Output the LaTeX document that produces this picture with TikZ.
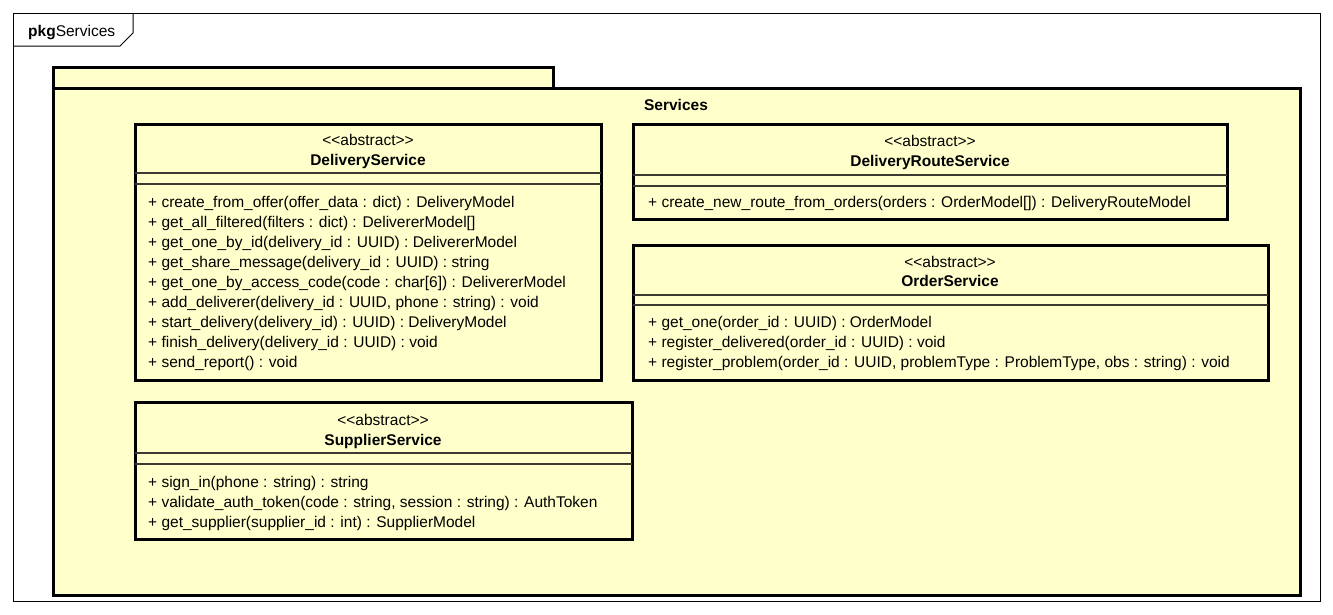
\documentclass[tikz,border=0pt]{standalone}
\usepackage{fontspec}
\newfontfamily\umlfont{Liberation Sans}
\definecolor{umlfill}{HTML}{FFFFCC}
\definecolor{sepcol}{HTML}{3A3A30}

\begin{document}
\begin{tikzpicture}[x=1pt,y=-1pt,
  frame/.style={draw=black, line width=1pt},
  pkgbox/.style={draw=black, line width=3pt, fill=umlfill},
  classbox/.style={draw=black, line width=3pt, fill=umlfill},
  sepline/.style={draw=sepcol, line width=1.2pt},
  txt/.style={inner sep=0pt, text height=11pt, text depth=0pt,
              font=\umlfont\fontsize{15.5}{20}\selectfont},
  member/.style={txt, anchor=west},
  clsname/.style={txt, font=\umlfont\bfseries\fontsize{15.5}{20}\selectfont}
]
\useasboundingbox (0,0) rectangle (1333,614);
\fill[white] (0,0) rectangle (1333,614);

% diagram frame with its name tab
\draw[frame] (13,13) rectangle (1320,601);
\draw[frame] (13,46) -- (120,46) -- (133,33) -- (133,13);
\node[member] (frametitle) at (28,31) {\textbf{pkg}Services};

% package Services
\draw[pkgbox] (53,67) rectangle (553,88);
\draw[pkgbox] (53,88) rectangle (1300,595);
\node[clsname] (pkgname) at (676,105) {Services};

% DeliveryService
\draw[classbox] (135,124) rectangle (601,380);
\draw[sepline] (135,173) -- (601,173);
\draw[sepline] (135,184) -- (601,184);
\node[txt] (ds-st) at (368,140) {<\kern0pt<abstract>\kern0pt>};
\node[clsname] (ds-name) at (368,160) {DeliveryService};
\node[member] (ds-m1) at (148,202) {+ create\_from\_offer(offer\_data : dict) : DeliveryModel};
\node[member] (ds-m2) at (148,222) {+ get\_all\_filtered(filters : dict) : DelivererModel[]};
\node[member] (ds-m3) at (148,242) {+ get\_one\_by\_id(delivery\_id : UUID) : DelivererModel};
\node[member] (ds-m4) at (148,262) {+ get\_share\_message(delivery\_id : UUID) : string};
\node[member] (ds-m5) at (148,282) {+ get\_one\_by\_access\_code(code : char[6]) : DelivererModel};
\node[member] (ds-m6) at (148,302) {+ add\_deliverer(delivery\_id : UUID, phone : string) : void};
\node[member] (ds-m7) at (148,322) {+ start\_delivery(delivery\_id) : UUID) : DeliveryModel};
\node[member] (ds-m8) at (148,342) {+ finish\_delivery(delivery\_id : UUID) : void};
\node[member] (ds-m9) at (148,362) {+ send\_report() : void};

% DeliveryRouteService
\draw[classbox] (633,124) rectangle (1227,219);
\draw[sepline] (633,175) -- (1227,175);
\draw[sepline] (633,186) -- (1227,186);
\node[txt] (drs-st) at (930,141) {<\kern0pt<abstract>\kern0pt>};
\node[clsname] (drs-name) at (930,161) {DeliveryRouteService};
\node[member] (drs-m1) at (648,202) {+ create\_new\_route\_from\_orders(orders : OrderModel[]) : DeliveryRouteModel};

% OrderService
\draw[classbox] (633,245) rectangle (1268,380);
\draw[sepline] (633,295) -- (1268,295);
\draw[sepline] (633,305) -- (1268,305);
\node[txt] (os-st) at (950,262) {<\kern0pt<abstract>\kern0pt>};
\node[clsname] (os-name) at (950,281) {OrderService};
\node[member] (os-m1) at (648,322) {+ get\_one(order\_id : UUID) : OrderModel};
\node[member] (os-m2) at (648,342) {+ register\_delivered(order\_id : UUID) : void};
\node[member] (os-m3) at (648,362) {+ register\_problem(order\_id : UUID, problemType : ProblemType, obs : string) : void};

% SupplierService
\draw[classbox] (135,402) rectangle (632,539);
\draw[sepline] (135,453) -- (632,453);
\draw[sepline] (135,464) -- (632,464);
\node[txt] (ss-st) at (383,420) {<\kern0pt<abstract>\kern0pt>};
\node[clsname] (ss-name) at (383,440) {SupplierService};
\node[member] (ss-m1) at (148,482) {+ sign\_in(phone : string) : string};
\node[member] (ss-m2) at (148,502) {+ validate\_auth\_token(code : string, session : string) : AuthToken};
\node[member] (ss-m3) at (148,522) {+ get\_supplier(supplier\_id : int) : SupplierModel};
\end{tikzpicture}
\end{document}
